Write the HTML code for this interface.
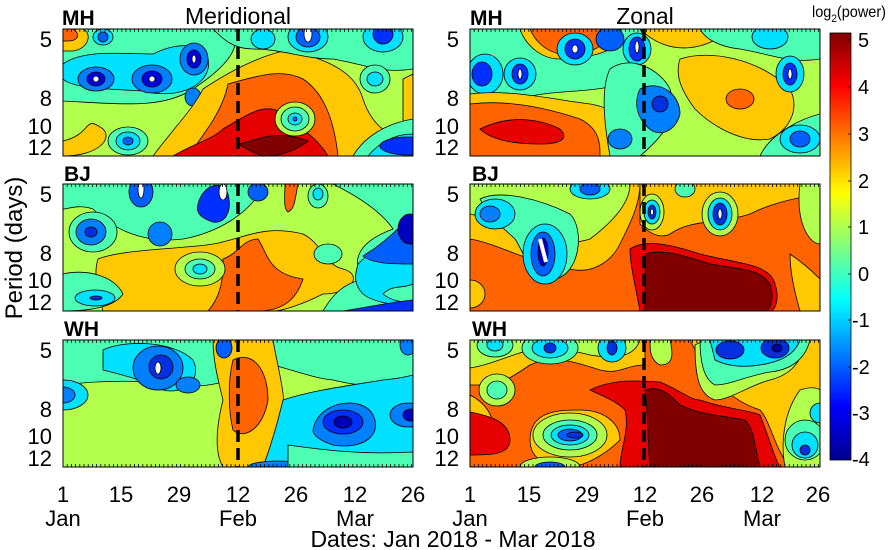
<!DOCTYPE html>
<html><head><meta charset="utf-8"><style>
body{margin:0;background:#fff;width:889px;height:550px;overflow:hidden}
svg{display:block;font-family:"Liberation Sans",sans-serif}
</style></head><body>
<svg width="889" height="550" viewBox="0 0 889 550" xmlns="http://www.w3.org/2000/svg">
<defs>
<clipPath id="c"><rect x="0" y="0" width="350" height="127"/></clipPath>
<linearGradient id="jet" x1="0" y1="1" x2="0" y2="0">
<stop offset="0" stop-color="#00008f"/><stop offset="0.125" stop-color="#0000ff"/>
<stop offset="0.375" stop-color="#00ffff"/><stop offset="0.625" stop-color="#ffff00"/>
<stop offset="0.875" stop-color="#ff0000"/><stop offset="1" stop-color="#800000"/>
</linearGradient>
</defs>
<g stroke="#000" stroke-width="0.8">
<!-- Panel 1 MH meridional -->
<g transform="translate(63,29)"><g clip-path="url(#c)">
<rect width="350" height="127" fill="#b3ff4d" stroke="none"/>
<path d="M0,0 H170 C180,20 160,40 130,60 C100,80 60,75 0,72 Z" fill="#4dffb3"/>
<path d="M0,35 C20,20 60,25 90,25 C120,10 150,15 145,40 C140,60 110,70 80,62 C50,60 10,60 0,50 Z" fill="#00e0ff"/>
<ellipse cx="33" cy="50" rx="18" ry="12" fill="#0080ff"/><ellipse cx="33" cy="50" rx="9" ry="7" fill="#0000e0"/><ellipse cx="33" cy="50" rx="3" ry="3" fill="#fff"/>
<ellipse cx="89" cy="50" rx="20" ry="14" fill="#0080ff"/><ellipse cx="89" cy="50" rx="10" ry="8" fill="#0000e0"/><ellipse cx="89" cy="50" rx="3" ry="3" fill="#fff"/>
<ellipse cx="131" cy="30" rx="14" ry="16" fill="#0080ff"/><ellipse cx="131" cy="30" rx="7" ry="9" fill="#0000e0"/><ellipse cx="131" cy="30" rx="2" ry="4" fill="#fff"/>
<ellipse cx="130" cy="68" rx="8" ry="9" fill="#0080ff"/>
<ellipse cx="40" cy="8" rx="10" ry="8" fill="#00e0ff"/><ellipse cx="40" cy="8" rx="5" ry="5" fill="#0060ff"/>
<path d="M0,0 H20 C30,5 25,20 10,22 L0,22 Z" fill="#ffc800"/>
<path d="M0,0 H10 C18,5 15,12 5,12 L0,12 Z" fill="#ff6400"/>
<path d="M0,112 C30,105 20,85 40,100 C50,110 35,127 0,127 Z" fill="#ffc800"/>
<ellipse cx="65" cy="112" rx="20" ry="14" fill="#4dffb3"/><ellipse cx="65" cy="112" rx="12" ry="9" fill="#00e0ff"/><ellipse cx="65" cy="112" rx="5" ry="4" fill="#0060ff"/>
<path d="M140,60 C170,40 200,25 230,20 C250,30 290,35 300,70 C310,100 330,110 350,110 L350,127 H90 C110,100 130,80 140,60Z" fill="#ffc800"/>
<path d="M165,55 C200,45 220,40 240,50 C255,60 270,80 275,127 H125 C145,100 160,80 165,55Z" fill="#ff6400"/>
<path d="M160,100 C185,85 200,75 215,82 C240,100 255,110 265,127 H110 C130,115 150,110 160,100Z" fill="#e60000"/>
<path d="M175,115 C200,110 210,100 245,112 C230,125 210,127 200,127 C190,124 180,118 175,115Z" fill="#800000"/>
<ellipse cx="232" cy="90" rx="20" ry="17" fill="#b3ff4d"/><ellipse cx="232" cy="90" rx="14" ry="12" fill="#4dffb3"/><ellipse cx="232" cy="90" rx="7" ry="6" fill="#00e0ff"/><ellipse cx="232" cy="90" rx="2" ry="2" fill="#0060ff"/>
<path d="M150,0 H350 V40 C320,45 300,35 270,30 C240,30 220,20 190,20 C170,20 160,10 150,0Z" fill="#4dffb3"/>
<ellipse cx="245" cy="8" rx="20" ry="15" fill="#00e0ff"/><ellipse cx="245" cy="8" rx="12" ry="10" fill="#0060ff"/><ellipse cx="245" cy="5" rx="4" ry="8" fill="#fff"/>
<ellipse cx="320" cy="8" rx="20" ry="15" fill="#00e0ff"/><ellipse cx="320" cy="5" rx="10" ry="10" fill="#0030ff"/>
<ellipse cx="200" cy="10" rx="12" ry="10" fill="#00e0ff"/>
<ellipse cx="312" cy="50" rx="15" ry="14" fill="#4dffb3"/><ellipse cx="312" cy="50" rx="8" ry="7" fill="#00e0ff"/>
<path d="M340,50 L350,45 V95 L340,92 Z" fill="#ffc800"/>
<path d="M290,127 C300,110 320,95 350,90 V127Z" fill="#4dffb3"/>
<path d="M305,127 C315,115 330,105 350,105 V127Z" fill="#00e0ff"/>
<ellipse cx="345" cy="117" rx="28" ry="9" fill="#0030ff"/>
</g></g>

<!-- Panel 2 BJ meridional -->
<g transform="translate(63,184)"><g clip-path="url(#c)">
<rect width="350" height="127" fill="#b3ff4d" stroke="none"/>
<path d="M0,0 H200 C190,30 150,50 120,55 C80,60 50,45 30,25 C15,20 5,25 0,25Z" fill="#4dffb3"/>
<ellipse cx="30" cy="48" rx="24" ry="20" fill="#4dffb3"/><ellipse cx="28" cy="48" rx="15" ry="13" fill="#0080ff"/><ellipse cx="28" cy="48" rx="6" ry="5" fill="#0030e0"/>
<ellipse cx="78" cy="8" rx="12" ry="15" fill="#0060ff"/><ellipse cx="78" cy="5" rx="3" ry="9" fill="#fff"/>
<ellipse cx="97" cy="50" rx="12" ry="12" fill="#0080ff"/>
<path d="M135,20 C140,0 160,-5 165,10 C170,30 160,40 150,38 C140,35 132,30 135,20Z" fill="#0030ff"/>
<ellipse cx="160" cy="8" rx="4" ry="8" fill="#fff"/>
<ellipse cx="195" cy="8" rx="10" ry="9" fill="#0060ff"/>
<path d="M35,75 C60,65 120,65 150,60 C180,55 200,40 240,50 C260,60 260,80 280,85 C300,90 290,110 260,110 C240,120 220,127 210,127 H40 C35,110 30,90 35,75Z" fill="#ffc800"/>
<path d="M160,75 C175,70 180,55 195,55 C205,70 205,90 240,95 C235,110 225,127 195,127 H145 C160,110 160,90 160,75Z" fill="#ff6400"/>
<path d="M222,0 H235 C232,15 232,25 225,28 C220,25 222,10 222,0Z" fill="#ff6400"/>
<ellipse cx="137" cy="85" rx="25" ry="17" fill="#b3ff4d"/><ellipse cx="137" cy="85" rx="15" ry="10" fill="#4dffb3"/><ellipse cx="137" cy="85" rx="7" ry="5" fill="#00e0ff"/>
<ellipse cx="255" cy="12" rx="10" ry="12" fill="#4dffb3"/><ellipse cx="255" cy="10" rx="5" ry="6" fill="#00e0ff"/>
<ellipse cx="265" cy="70" rx="14" ry="10" fill="#4dffb3"/>
<path d="M270,0 H350 V127 H260 C270,110 280,100 300,95 C290,80 290,60 330,45 C320,30 300,15 270,0Z" fill="#4dffb3"/>
<path d="M295,80 C310,65 330,50 350,35 V120 C330,122 310,118 300,110 C290,100 292,90 295,80Z" fill="#00e0ff"/>
<path d="M300,72 C320,60 335,45 350,30 V80 C330,80 310,80 300,72Z" fill="#0060ff"/>
<ellipse cx="347" cy="45" rx="12" ry="15" fill="#0000c0"/>
<path d="M320,110 C330,100 340,105 350,100 V118 C340,118 330,118 320,110Z" fill="#4dffb3"/>
<path d="M0,90 C20,85 50,90 60,110 C50,125 20,127 0,127Z" fill="#4dffb3"/>
<ellipse cx="32" cy="114" rx="20" ry="8" fill="#00e0ff"/><ellipse cx="33" cy="114" rx="6" ry="2" fill="#0030e0"/>
<path d="M280,127 C310,122 330,118 350,116 V127Z" fill="#0030ff"/>
</g></g>

<!-- Panel 3 WH meridional -->
<g transform="translate(63,340)"><g clip-path="url(#c)">
<rect width="350" height="127" fill="#b3ff4d" stroke="none"/>
<path d="M0,0 H350 V40 C320,50 290,45 270,40 C250,38 230,30 210,25 C180,35 150,50 120,45 C80,40 40,40 0,45Z" fill="#4dffb3"/>
<path d="M40,10 C60,0 110,0 130,20 C140,40 120,55 100,50 C80,40 60,35 40,30 Z" fill="#00e0ff"/>
<ellipse cx="95" cy="28" rx="25" ry="22" fill="#0080ff"/><ellipse cx="98" cy="27" rx="12" ry="12" fill="#0030e0"/><ellipse cx="95" cy="28" rx="3" ry="6" fill="#fff"/>
<ellipse cx="125" cy="45" rx="12" ry="8" fill="#0080ff"/>
<ellipse cx="0" cy="55" rx="25" ry="15" fill="#00e0ff"/><ellipse cx="0" cy="55" rx="12" ry="8" fill="#0080ff"/>
<path d="M150,0 H210 C215,30 225,60 220,90 C215,115 200,127 190,127 H160 C150,110 155,80 160,60 C155,40 150,20 150,0Z" fill="#ffc800"/>
<path d="M170,20 C190,10 205,30 205,60 C200,90 180,100 170,90 C165,70 165,40 170,20Z" fill="#ff6400"/>
<ellipse cx="161" cy="8" rx="8" ry="10" fill="#0060ff"/>
<path d="M220,60 C250,50 290,45 320,40 C340,38 350,35 350,35 V127 H200 C210,100 215,80 220,60Z" fill="#00e0ff"/>
<path d="M250,90 C255,60 300,55 310,75 C320,95 300,110 270,105 C255,100 250,95 250,90Z" fill="#0080ff"/>
<ellipse cx="280" cy="82" rx="20" ry="12" fill="#0030ff"/><ellipse cx="280" cy="82" rx="9" ry="6" fill="#0000b0"/>
<ellipse cx="345" cy="75" rx="18" ry="12" fill="#0080ff"/><ellipse cx="348" cy="75" rx="8" ry="6" fill="#0000c0"/>
<ellipse cx="345" cy="5" rx="8" ry="10" fill="#0080ff"/>
<ellipse cx="215" cy="127" rx="30" ry="6" fill="#0080ff"/>
<path d="M225,105 C260,110 300,115 350,112 V127 H225Z" fill="#4dffb3"/>
</g></g>

<!-- Panel 4 MH zonal -->
<g transform="translate(470,29)"><g clip-path="url(#c)">
<rect width="350" height="127" fill="#b3ff4d" stroke="none"/>
<path d="M0,0 H170 C180,15 170,40 150,55 C120,65 80,60 50,70 C30,75 10,70 0,70Z" fill="#4dffb3"/>
<ellipse cx="15" cy="45" rx="18" ry="20" fill="#00e0ff"/><ellipse cx="12" cy="45" rx="10" ry="12" fill="#0030ff"/>
<ellipse cx="50" cy="45" rx="16" ry="16" fill="#00e0ff"/><ellipse cx="50" cy="45" rx="8" ry="10" fill="#0030ff"/><ellipse cx="50" cy="45" rx="2" ry="5" fill="#fff"/>
<path d="M50,0 H150 C160,20 120,30 90,30 C70,30 55,15 50,0Z" fill="#ffc800"/>
<path d="M60,0 H140 C140,20 110,28 90,25 C75,22 65,12 60,0Z" fill="#ff6400"/>
<ellipse cx="105" cy="20" rx="18" ry="16" fill="#00e0ff"/><ellipse cx="105" cy="20" rx="10" ry="10" fill="#0030ff"/><ellipse cx="105" cy="20" rx="3" ry="4" fill="#fff"/>
<ellipse cx="140" cy="10" rx="14" ry="12" fill="#0060ff"/>
<ellipse cx="167" cy="20" rx="14" ry="16" fill="#00e0ff"/><ellipse cx="167" cy="20" rx="8" ry="12" fill="#0030ff"/><ellipse cx="167" cy="18" rx="2" ry="6" fill="#fff"/>
<path d="M0,65 C40,60 80,70 120,75 C150,80 170,100 160,127 H0Z" fill="#ffc800"/>
<path d="M0,75 C40,70 80,80 110,90 C130,100 130,115 130,127 H0Z" fill="#ff6400"/>
<path d="M10,100 C40,85 70,90 90,100 C100,110 90,115 70,115 C40,115 20,110 10,100Z" fill="#e60000"/>
<path d="M140,40 C160,25 190,40 200,60 C210,90 190,110 170,127 H140 C135,100 130,60 140,40Z" fill="#4dffb3"/>
<path d="M170,60 C190,50 210,65 210,85 C205,105 185,110 175,95 C165,85 165,70 170,60Z" fill="#0080ff"/><ellipse cx="190" cy="75" rx="8" ry="8" fill="#0030e0"/>
<ellipse cx="150" cy="110" rx="12" ry="10" fill="#0080ff"/>
<path d="M170,0 C200,30 240,20 260,0Z" fill="#ffc800"/>
<path d="M210,30 C240,20 290,30 320,60 C330,80 320,100 300,110 C270,115 240,95 225,80 C210,60 205,45 210,30Z" fill="#ffc800"/>
<ellipse cx="270" cy="70" rx="14" ry="10" fill="#ff6400"/>
<path d="M230,0 H350 V30 C320,35 300,25 270,20 C250,18 235,10 230,0Z" fill="#4dffb3"/>
<ellipse cx="320" cy="45" rx="14" ry="18" fill="#00e0ff"/><ellipse cx="320" cy="45" rx="7" ry="11" fill="#0030ff"/><ellipse cx="320" cy="45" rx="2" ry="5" fill="#fff"/>
<ellipse cx="300" cy="8" rx="18" ry="12" fill="#00e0ff"/>
<path d="M290,127 C300,105 330,90 350,85 V127Z" fill="#4dffb3"/>
<ellipse cx="330" cy="110" rx="20" ry="14" fill="#00e0ff"/><ellipse cx="330" cy="110" rx="10" ry="8" fill="#0060ff"/>
</g></g>

<!-- Panel 5 BJ zonal -->
<g transform="translate(470,184)"><g clip-path="url(#c)">
<rect width="350" height="127" fill="#ff6400" stroke="none"/>
<path d="M0,0 H170 C170,20 160,40 150,60 C140,80 120,90 100,85 C60,80 30,60 0,55Z" fill="#ffc800"/>
<path d="M0,0 H160 C160,20 140,40 120,55 C90,65 60,50 30,40 C10,35 5,30 0,30Z" fill="#b3ff4d"/>
<path d="M10,15 C30,5 70,15 100,30 C115,45 110,90 85,95 C60,95 55,70 45,55 C35,45 20,35 10,15Z" fill="#4dffb3"/>
<ellipse cx="75" cy="70" rx="22" ry="30" fill="#00e0ff"/><ellipse cx="73" cy="70" rx="12" ry="22" fill="#0060ff"/><ellipse cx="73" cy="68" rx="5" ry="14" fill="#0000c0"/><path d="M70,55 L76,78" stroke="#fff" stroke-width="4"/>
<ellipse cx="25" cy="30" rx="20" ry="15" fill="#00e0ff"/><ellipse cx="20" cy="30" rx="10" ry="8" fill="#0080ff"/>
<ellipse cx="120" cy="5" rx="20" ry="10" fill="#00e0ff"/><ellipse cx="120" cy="5" rx="10" ry="6" fill="#0060ff"/>
<path d="M170,0 H350 V10 C320,15 300,20 280,30 C250,40 220,35 200,50 C190,55 180,50 170,40Z" fill="#ffc800"/>
<ellipse cx="182" cy="28" rx="12" ry="18" fill="#b3ff4d"/><ellipse cx="182" cy="28" rx="8" ry="12" fill="#00e0ff"/><ellipse cx="182" cy="28" rx="4" ry="7" fill="#0030e0"/><ellipse cx="182" cy="28" rx="1.5" ry="3" fill="#fff"/>
<ellipse cx="250" cy="30" rx="18" ry="22" fill="#b3ff4d"/><ellipse cx="250" cy="30" rx="12" ry="16" fill="#00e0ff"/><ellipse cx="250" cy="30" rx="7" ry="11" fill="#0030e0"/><ellipse cx="250" cy="30" rx="2" ry="5" fill="#fff"/>
<ellipse cx="215" cy="5" rx="10" ry="8" fill="#4dffb3"/>
<path d="M330,0 H350 V60 C340,60 325,40 330,0Z" fill="#b3ff4d"/>
<path d="M160,65 C175,55 200,60 230,70 C270,80 300,80 305,100 C310,115 305,127 300,127 H170 C165,100 160,80 160,65Z" fill="#e60000"/>
<path d="M175,70 C190,65 210,70 240,80 C270,85 290,85 300,100 C305,115 300,127 295,127 H175Z" fill="#800000"/>
<path d="M320,70 C335,80 345,90 350,95 V127 H330 C325,110 320,90 320,70Z" fill="#ffc800"/>
<ellipse cx="0" cy="110" rx="15" ry="14" fill="#ffc800"/>
</g></g>

<!-- Panel 6 WH zonal -->
<g transform="translate(470,340)"><g clip-path="url(#c)">
<rect width="350" height="127" fill="#ff6400" stroke="none"/>
<path d="M220,0 H350 V127 H320 C305,110 300,80 290,70 C260,60 240,40 220,0 Z" fill="#ffc800"/>
<path d="M0,0 H175 V25 C155,25 150,35 130,30 C100,20 80,15 60,25 C45,35 30,45 20,45 L0,45Z" fill="#ffc800"/>
<path d="M0,0 H170 C165,15 150,20 120,15 C100,10 80,5 60,10 C40,15 20,25 0,28Z" fill="#b3ff4d"/>
<ellipse cx="25" cy="5" rx="18" ry="12" fill="#4dffb3"/><ellipse cx="25" cy="5" rx="8" ry="6" fill="#00e0ff"/>
<ellipse cx="80" cy="8" rx="28" ry="16" fill="#4dffb3"/><ellipse cx="80" cy="8" rx="18" ry="10" fill="#00e0ff"/><ellipse cx="80" cy="8" rx="6" ry="5" fill="#0030e0"/>
<ellipse cx="142" cy="8" rx="14" ry="14" fill="#00e0ff"/><ellipse cx="142" cy="8" rx="5" ry="7" fill="#0030e0"/>
<ellipse cx="27" cy="50" rx="18" ry="16" fill="#b3ff4d"/><ellipse cx="27" cy="50" rx="10" ry="9" fill="#4dffb3"/>
<path d="M0,55 C20,65 30,85 20,110 L0,110Z" fill="#ffc800"/>
<path d="M0,72 C15,75 40,80 40,100 C40,115 20,115 0,115Z" fill="#e60000"/>
<path d="M60,100 C60,70 90,70 110,70 C130,70 150,80 150,100 C140,110 120,125 100,127 C70,127 60,115 60,100Z" fill="#ffc800"/>
<ellipse cx="100" cy="95" rx="37" ry="22" fill="#b3ff4d"/><ellipse cx="100" cy="95" rx="27" ry="15" fill="#4dffb3"/><ellipse cx="100" cy="95" rx="19" ry="10" fill="#00e0ff"/><ellipse cx="100" cy="95" rx="12" ry="6" fill="#0060ff"/><ellipse cx="105" cy="95" rx="8" ry="3" fill="#0030e0"/>
<ellipse cx="80" cy="127" rx="30" ry="10" fill="#b3ff4d"/><ellipse cx="80" cy="127" rx="15" ry="5" fill="#0060ff"/>
<path d="M120,50 C140,40 160,40 190,42 C210,50 220,60 230,60 C260,70 280,70 290,75 C300,100 305,120 310,127 H150 C150,110 160,90 155,70 C145,60 130,55 120,50Z" fill="#e60000"/>
<path d="M175,50 C190,45 200,55 210,65 C230,75 250,75 275,80 C285,90 285,110 290,127 H180 C178,110 178,70 175,50Z" fill="#800000"/>
<path d="M180,0 H200 C205,20 200,25 190,25 C180,20 180,10 180,0Z" fill="#b3ff4d"/>
<path d="M225,5 C240,-5 300,0 330,5 C335,20 320,35 300,40 C280,45 260,60 245,60 C230,55 225,40 225,5Z" fill="#b3ff4d"/>
<path d="M230,0 H340 C335,20 320,30 300,32 C280,35 260,45 245,45 C235,40 230,25 230,0Z" fill="#4dffb3"/>
<path d="M240,0 H330 C325,15 310,22 290,25 C270,28 255,25 245,20 Z" fill="#00e0ff"/>
<ellipse cx="260" cy="10" rx="14" ry="9" fill="#0030e0"/>
<ellipse cx="305" cy="8" rx="14" ry="10" fill="#0030e0"/><ellipse cx="307" cy="8" rx="5" ry="4" fill="#0000a0"/>
<path d="M330,50 C345,45 350,50 350,50 V127 H315 C310,100 315,70 330,50Z" fill="#b3ff4d"/>
<ellipse cx="335" cy="100" rx="20" ry="20" fill="#4dffb3"/><ellipse cx="335" cy="105" rx="13" ry="13" fill="#00e0ff"/><ellipse cx="335" cy="110" rx="5" ry="5" fill="#0030e0"/>
<ellipse cx="350" cy="73" rx="10" ry="10" fill="#00e0ff"/>
</g></g>
</g>

<!-- frames -->
<g fill="none" stroke="#000" stroke-width="1">
<rect x="63" y="29" width="350" height="127"/><rect x="63" y="184" width="350" height="127"/><rect x="63" y="340" width="350" height="127"/>
<rect x="470" y="29" width="350" height="127"/><rect x="470" y="184" width="350" height="127"/><rect x="470" y="340" width="350" height="127"/>
</g>
<!-- dashed lines -->
<g stroke="#000" stroke-width="3.5" stroke-dasharray="12,6">
<line x1="238" y1="29" x2="238" y2="156"/><line x1="238" y1="184" x2="238" y2="311"/><line x1="238" y1="340" x2="238" y2="467"/>
<line x1="644" y1="29" x2="644" y2="156"/><line x1="644" y1="184" x2="644" y2="311"/><line x1="644" y1="340" x2="644" y2="467"/>
</g>
<!-- minor ticks -->
<g stroke="#000" stroke-width="0.8">
<path id="tk" d="M67.2,29v3M71.4,29v3M75.6,29v3M79.8,29v3M84,29v3M88.2,29v3M92.4,29v3M96.6,29v3M100.8,29v3M105,29v3M109.2,29v3M113.4,29v3M117.6,29v3M121.8,29v3M126,29v3M130.2,29v3M134.4,29v3M138.6,29v3M142.8,29v3M147,29v3M151.2,29v3M155.4,29v3M159.6,29v3M163.8,29v3M168,29v3M172.2,29v3M176.4,29v3M180.6,29v3M184.8,29v3M189,29v3M193.2,29v3M197.4,29v3M201.6,29v3M205.8,29v3M210,29v3M214.2,29v3M218.4,29v3M222.6,29v3M226.8,29v3M231,29v3M235.2,29v3M239.4,29v3M243.6,29v3M247.8,29v3M252,29v3M256.2,29v3M260.4,29v3M264.6,29v3M268.8,29v3M273,29v3M277.2,29v3M281.4,29v3M285.6,29v3M289.8,29v3M294,29v3M298.2,29v3M302.4,29v3M306.6,29v3M310.8,29v3M315,29v3M319.2,29v3M323.4,29v3M327.6,29v3M331.8,29v3M336,29v3M340.2,29v3M344.4,29v3M348.6,29v3M352.8,29v3M357,29v3M361.2,29v3M365.4,29v3M369.6,29v3M373.8,29v3M378,29v3M382.2,29v3M386.4,29v3M390.6,29v3M394.8,29v3M399,29v3M403.2,29v3M407.4,29v3M411.6,29v3"/>
<use href="#tk" y="155"/><use href="#tk" y="311"/><use href="#tk" y="435"/>
<use href="#tk" x="407"/><use href="#tk" x="407" y="155"/><use href="#tk" x="407" y="311"/><use href="#tk" x="407" y="435"/>
</g>
<!-- y tick labels -->
<g font-size="22" text-anchor="end" fill="#000">
<text x="52" y="47">5</text><text x="52" y="106">8</text><text x="52" y="134">10</text><text x="52" y="155">12</text>
<text x="52" y="202">5</text><text x="52" y="261">8</text><text x="52" y="288">10</text><text x="52" y="310">12</text>
<text x="52" y="358">5</text><text x="52" y="417">8</text><text x="52" y="444">10</text><text x="52" y="466">12</text>
<text x="459" y="47">5</text><text x="459" y="106">8</text><text x="459" y="134">10</text><text x="459" y="155">12</text>
<text x="459" y="202">5</text><text x="459" y="261">8</text><text x="459" y="288">10</text><text x="459" y="310">12</text>
<text x="459" y="358">5</text><text x="459" y="417">8</text><text x="459" y="444">10</text><text x="459" y="466">12</text>
</g>
<!-- x tick labels -->
<g font-size="22" text-anchor="middle" fill="#000">
<text x="63" y="502">1</text><text x="121" y="502">15</text><text x="179" y="502">29</text><text x="238" y="502">12</text><text x="296" y="502">26</text><text x="355" y="502">12</text><text x="413" y="502">26</text>
<text x="470" y="502">1</text><text x="529" y="502">15</text><text x="587" y="502">29</text><text x="645" y="502">12</text><text x="702" y="502">26</text><text x="762" y="502">12</text><text x="818" y="502">26</text>
<text x="63" y="526">Jan</text><text x="238" y="526">Feb</text><text x="355" y="526">Mar</text>
<text x="470" y="526">Jan</text><text x="645" y="526">Feb</text><text x="762" y="526">Mar</text>
<text x="453" y="547" font-size="23">Dates: Jan 2018 - Mar 2018</text>
</g>
<text transform="translate(22,248) rotate(-90)" font-size="24" text-anchor="middle">Period (days)</text>
<!-- panel labels -->
<g font-size="21" font-weight="bold">
<text x="62" y="25">MH</text><text x="64" y="181">BJ</text><text x="64" y="336">WH</text>
<text x="470" y="25">MH</text><text x="472" y="181">BJ</text><text x="472" y="336">WH</text>
</g>
<text x="238" y="24" font-size="23" text-anchor="middle">Meridional</text>
<text x="645" y="24" font-size="23" text-anchor="middle">Zonal</text>
<!-- colorbar -->
<rect x="830" y="33" width="21" height="427" fill="url(#jet)" stroke="#000" stroke-width="0.8"/>
<g stroke="#000" stroke-width="0.8">
<path d="M851,40h-3M851,87h-3M851,134h-3M851,181h-3M851,227h-3M851,274h-3M851,320h-3M851,367h-3M851,413h-3M851,459h-3"/>
</g>
<g font-size="20" fill="#000">
<text x="858" y="47">5</text><text x="858" y="94">4</text><text x="858" y="141">3</text><text x="858" y="188">2</text><text x="858" y="234">1</text><text x="858" y="281">0</text>
<text x="852" y="327">-1</text><text x="852" y="374">-2</text><text x="852" y="420">-3</text><text x="852" y="466">-4</text>
</g>
<text x="812" y="17" font-size="16" textLength="74" lengthAdjust="spacingAndGlyphs">log<tspan font-size="11" dy="5">2</tspan><tspan dy="-5">(power)</tspan></text>
</svg>
</body></html>
